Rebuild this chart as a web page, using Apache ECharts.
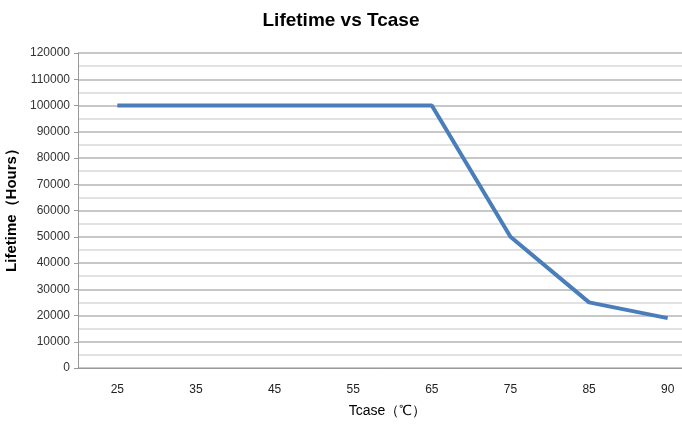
<!DOCTYPE html>
<html>
<head>
<meta charset="utf-8">
<script src="https://cdn.jsdelivr.net/npm/echarts@6/dist/echarts.min.js"></script>
<style>html,body{margin:0;padding:0;background:#fff}#c{width:682px;height:430px}</style>
</head>
<body>
<div id="c"></div>
<script>
const categories = ['25', '35', '45', '55', '65', '75', '85', '90'];
const lifetimeHours = [100000, 100000, 100000, 100000, 100000, 50000, 25000, 19000];
const chartTitle = 'Lifetime vs Tcase';
const xName = 'Tcase（℃）';
const yName = 'Lifetime（Hours）';

const chart = echarts.init(document.getElementById('c'), null, {renderer: 'canvas'});
chart.setOption({
  animation: false,
  backgroundColor: '#fff',
  title: {
    text: chartTitle, left: 'center', top: 6,
    textStyle: {fontFamily: 'Liberation Sans Narrow, Arial Narrow, Liberation Sans', fontSize: 19, fontWeight: 'bold', color: '#000'}
  },
  grid: {left: 78, right: -25, top: 53, bottom: 62, containLabel: false, outerBoundsMode: 'none'},
  xAxis: {
    type: 'category', data: categories, boundaryGap: true,
    name: xName, nameLocation: 'middle', nameGap: 36,
    nameTextStyle: {fontFamily: 'Liberation Sans Narrow, Liberation Sans', fontSize: 14, color: '#000', padding: [0, 0, 0, -10]},
    axisLine: {lineStyle: {color: '#999', width: 1}},
    axisTick: {show: false},
    axisLabel: {margin: 16, fontFamily: 'Liberation Sans Narrow, Liberation Sans', fontSize: 12, color: '#222'}
  },
  yAxis: {
    type: 'value', min: 0, max: 120000, interval: 10000,
    name: yName, nameLocation: 'middle', nameGap: 58, nameRotate: 90,
    nameTextStyle: {fontFamily: 'Liberation Sans', fontSize: 15, fontWeight: 'bold', color: '#000', padding: [0, 0, 0, 8]},
    axisLine: {show: true, lineStyle: {color: '#999', width: 1}},
    axisTick: {show: true, length: 4, lineStyle: {color: '#999'}},
    axisLabel: {margin: 8, fontFamily: 'Liberation Sans Narrow, Liberation Sans', fontSize: 12, color: '#333',
      formatter: v => String(v)},
    splitLine: {show: true, lineStyle: {color: '#b4b4b4', width: 1.5}},
    minorTick: {show: false, splitNumber: 2},
    minorSplitLine: {show: true, lineStyle: {color: '#d9d9d9', width: 1.5}}
  },
  series: [{
    type: 'line', data: lifetimeHours,
    symbol: 'none',
    lineStyle: {color: '#4a7ebb', width: 4},
    itemStyle: {color: '#4a7ebb'}
  }]
});
</script>
</body>
</html>
